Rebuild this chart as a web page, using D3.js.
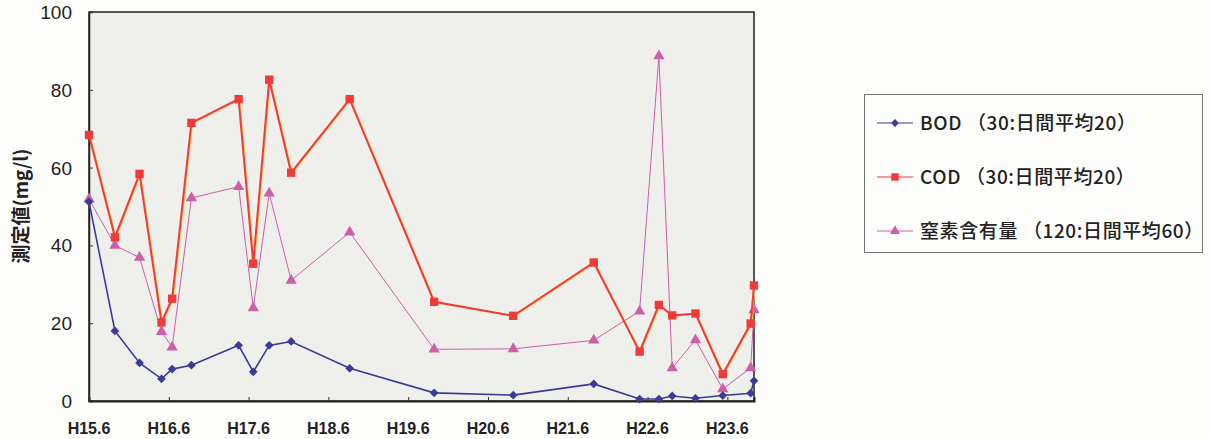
<!DOCTYPE html>
<html>
<head>
<meta charset="utf-8">
<script src="https://cdn.jsdelivr.net/npm/d3@7"></script>
<style>
  body { margin: 0; background: #fdfdfb; }
  svg text { font-family: "Liberation Sans", Arial, "Noto Sans CJK JP", sans-serif; fill: #222; }
</style>
</head>
<body>
<div id="chart"></div>
<script>
// months since H15.6
const sampleMonths = [0, 3.9, 7.6, 10.9, 12.5, 15.4, 22.5, 24.7, 27.1, 30.4, 39.2, 51.9, 63.8, 75.9, 82.8, 85.7, 87.7, 91.2, 95.3, 99.5, 100];
const bodValues = [51.2, 18.0, 9.8, 5.7, 8.2, 9.2, 14.3, 7.5, 14.3, 15.3, 8.4, 2.1, 1.5, 4.4, 0.5, 0.5, 1.3, 0.7, 1.4, 2.0, 5.2];
const codValues = [68.4, 42.1, 58.4, 20.2, 26.3, 71.5, 77.6, 35.3, 82.6, 58.7, 77.6, 25.5, 21.9, 35.6, 12.7, 24.7, 22.0, 22.5, 6.9, 19.9, 29.7];
const nValues = [51.9, 40.0, 36.9, 17.8, 13.8, 52.2, 55.1, 23.9, 53.4, 31.0, 43.4, 13.3, 13.4, 15.6, 23.1, 88.7, 8.5, 15.7, 3.1, 8.5, 23.4];
const xTickMonths = [0, 12, 24, 36, 48, 60, 72, 84, 96];
const xTickLabels = ["H15.6", "H16.6", "H17.6", "H18.6", "H19.6", "H20.6", "H21.6", "H22.6", "H23.6"];
const yTicks = [0, 20, 40, 60, 80, 100];
const seriesNames = ["BOD （30:日間平均20）", "COD （30:日間平均20）", "窒素含有量 （120:日間平均60）"];

const w = 1210, h = 439;
const margin = { top: 12, right: 456, bottom: 38, left: 89 };

const svg = d3.select("#chart").append("svg").attr("width", w).attr("height", h);

const x = d3.scaleLinear().domain([0, 100]).range([margin.left, w - margin.right]);
const y = d3.scaleLinear().domain([0, 100]).range([h - margin.bottom, margin.top]);

svg.append("rect")
  .attr("x", x(0)).attr("y", y(100))
  .attr("width", x(100) - x(0)).attr("height", y(0) - y(100))
  .attr("fill", "#efefec")
  .attr("stroke", "#222").attr("stroke-width", 1.5);

// axes
const yAxis = d3.axisRight(y).tickValues(yTicks).tickSize(4).tickFormat("");
svg.append("g").attr("transform", `translate(${x(0)},0)`).call(yAxis)
  .call(g => g.select(".domain").attr("stroke", "#222").attr("stroke-width", 1.5))
  .call(g => g.selectAll(".tick line").attr("stroke", "#333"));

svg.append("g").selectAll("text").data(yTicks).join("text")
  .attr("x", 72).attr("y", d => y(d) + 7)
  .attr("text-anchor", "end")
  .style("font-size", "19px")
  .text(d => d);

const xAxis = d3.axisTop(x).tickValues(xTickMonths).tickSize(4).tickFormat("");
svg.append("g").attr("transform", `translate(0,${y(0)})`).call(xAxis)
  .call(g => g.select(".domain").attr("stroke", "#222").attr("stroke-width", 2))
  .call(g => g.selectAll(".tick line").attr("stroke", "#333"));

svg.append("g").selectAll("text").data(xTickMonths).join("text")
  .attr("x", d => x(d)).attr("y", 434)
  .attr("text-anchor", "middle")
  .style("font-size", "16px").style("font-weight", "bold")
  .text((d, i) => xTickLabels[i]);

svg.append("text")
  .attr("transform", "translate(28,206) rotate(-90)")
  .attr("text-anchor", "middle")
  .style("font-size", "19px").style("font-weight", "bold")
  .style("font-family", "'Noto Sans CJK JP', sans-serif")
  .text("測定値(mg/l)");

// series
const series = [
  { name: seriesNames[2], values: nValues, color: "#cc5fa8", width: 1, shape: d3.symbolTriangle, size: 55, rot: 0 },
  { name: seriesNames[1], values: codValues, color: "#f23a3a", width: 2, shape: d3.symbolSquare, size: 70, rot: 0 },
  { name: seriesNames[0], values: bodValues, color: "#3b3b98", width: 1.6, shape: d3.symbolSquare, size: 38, rot: 45 }
];

const line = d3.line().x(d => x(d[0])).y(d => y(d[1]));

series.forEach(s => {
  const pts = sampleMonths.map((m, i) => [m, s.values[i]]);
  if (s.width === 2) {
    svg.append("path").attr("d", line(pts)).attr("fill", "none")
      .attr("stroke", "#f3cf55").attr("stroke-width", 1.5)
      .attr("transform", "translate(1,0.5)");
  }
  svg.append("path").attr("d", line(pts)).attr("fill", "none")
    .attr("stroke", s.color).attr("stroke-width", s.width);
  svg.append("g").selectAll("path").data(pts).join("path")
    .attr("transform", d => `translate(${x(d[0])},${y(d[1])}) rotate(${s.rot})`)
    .attr("d", d3.symbol().type(s.shape).size(s.size))
    .attr("fill", s.color);
});

// legend
const legend = svg.append("g");
legend.append("rect")
  .attr("x", 864.5).attr("y", 94.5).attr("width", 338).attr("height", 158)
  .attr("fill", "#fdfdfb").attr("stroke", "#777").attr("stroke-width", 1);

const legendItems = [series[2], series[1], series[0]];
const legendY = [123, 177, 231];
legendItems.forEach((s, i) => {
  const g = legend.append("g").attr("transform", `translate(0,${legendY[i]})`);
  g.append("line").attr("x1", 877).attr("x2", 913).attr("y1", 0).attr("y2", 0)
    .attr("stroke", s.color).attr("stroke-width", 1);
  g.append("path").attr("transform", `translate(895,0) rotate(${s.rot})`)
    .attr("d", d3.symbol().type(s.shape).size(s.size * 0.8))
    .attr("fill", s.color);
  g.append("text").attr("x", 920).attr("y", 7)
    .style("font-size", "19px")
    .style("letter-spacing", "0.6px")
    .style("font-family", "'Noto Sans CJK JP', sans-serif")
    .style("font-weight", "500")
    .text(s.name);
});
</script>
</body>
</html>
